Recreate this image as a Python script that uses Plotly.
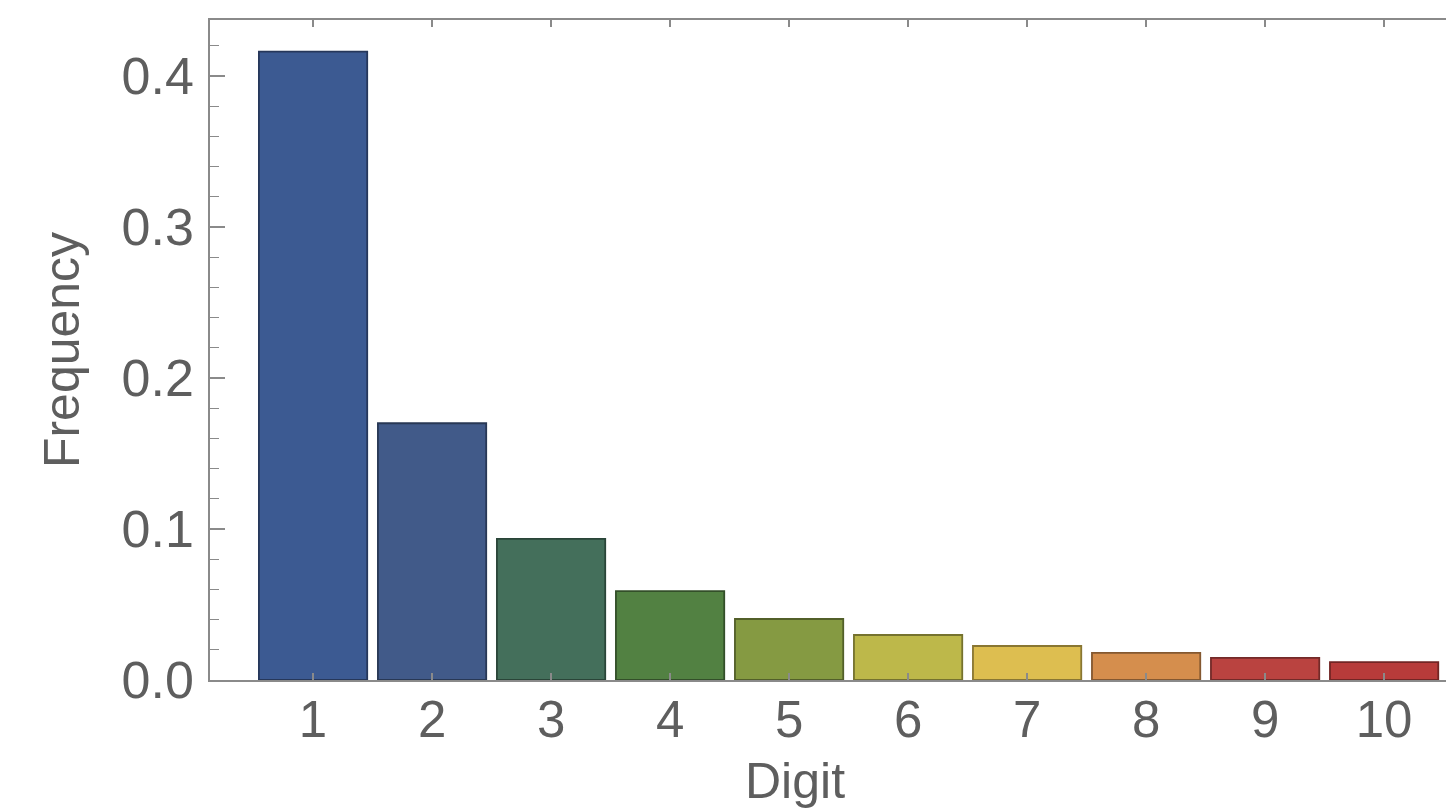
import plotly.graph_objects as go

digits = [1, 2, 3, 4, 5, 6, 7, 8, 9, 10]
frequency = [0.416, 0.170, 0.0934, 0.0589, 0.0404, 0.0298, 0.0225, 0.0179, 0.0146, 0.0119]
bar_colors = ["#3C5A92", "#415A89", "#446F5B", "#528142", "#859A42",
              "#BDB84A", "#DDBE50", "#D58E4D", "#BA4340", "#B73B3A"]
edge_colors = ["#26375A", "#283855", "#2A4538", "#334F29", "#525F29",
               "#75722E", "#897632", "#845830", "#732A28", "#722524"]
y_ticks = [0.0, 0.1, 0.2, 0.3, 0.4]
y_tick_labels = ["0.0", "0.1", "0.2", "0.3", "0.4"]

font_family = "Liberation Sans, Arial, sans-serif"
text_color = "#5e5e5e"
axis_color = "#8a8a8a"

fig = go.Figure(go.Bar(
    x=digits, y=frequency, width=0.91,
    marker=dict(color=bar_colors, line=dict(color=edge_colors, width=1.8)),
    hoverinfo="x+y",
))

fig.update_layout(
    width=1446, height=808,
    margin=dict(l=210, r=0, t=20, b=128),
    paper_bgcolor="white", plot_bgcolor="white",
    showlegend=False,
    font=dict(family=font_family, color=text_color),
    xaxis=dict(
        range=[0.134, 10.52], tickvals=digits, ticktext=[str(d) for d in digits],
        ticks="inside", ticklen=7, tickwidth=1.5, tickcolor=axis_color,
        showline=True, linecolor=axis_color, linewidth=1.5, mirror="ticks",
        showgrid=False, zeroline=False,
        tickfont=dict(size=51, color=text_color), ticklabelstandoff=-6,
    ),
    yaxis=dict(
        range=[0, 0.437], tickvals=y_ticks, ticktext=y_tick_labels,
        ticks="inside", ticklen=15, tickwidth=1.5, tickcolor=axis_color,
        minor=dict(dtick=0.02, ticks="inside", ticklen=9, tickwidth=1, tickcolor=axis_color, showgrid=False),
        showline=True, linecolor=axis_color, linewidth=1.5, mirror=False,
        showgrid=False, zeroline=False,
        tickfont=dict(size=52, color=text_color), ticklabelstandoff=4,
        title=dict(text="Frequency", font=dict(size=50, color=text_color), standoff=26),
    ),
    annotations=[dict(
        text="Digit", xref="paper", yref="paper", x=0.473, y=0,
        xanchor="center", yanchor="middle", yshift=-101, showarrow=False,
        font=dict(size=50, color=text_color),
    )],
)

fig.write_html("out.html", config={"displayModeBar": False},
               post_script="document.body.style.margin='0';document.body.style.overflow='hidden';")
